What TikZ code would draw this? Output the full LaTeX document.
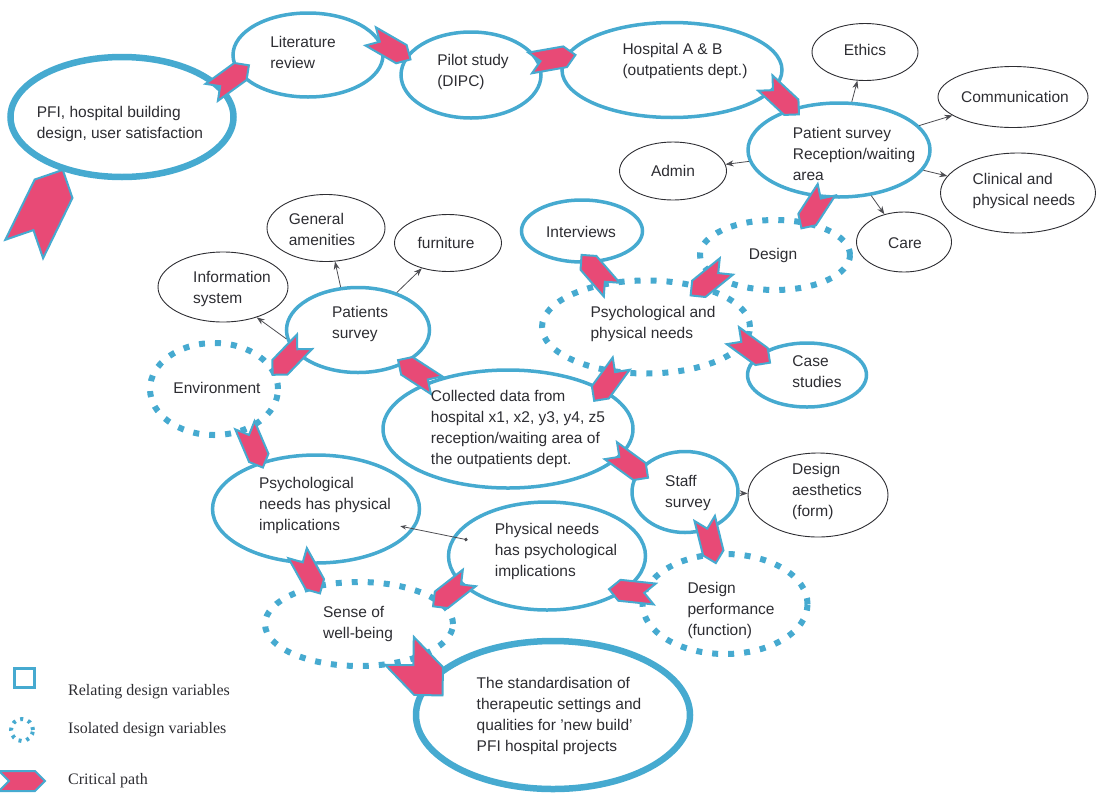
\documentclass[tikz,border=0pt]{standalone}
\usepackage{fontspec}
\setmainfont{Liberation Sans}
\newfontfamily\legendfont{Liberation Serif}
\usetikzlibrary{shapes.geometric,shapes.symbols,arrows.meta,calc}
\definecolor{cpblue}{RGB}{70,170,208}
\definecolor{cppink}{RGB}{232,74,118}
\definecolor{inkgray}{RGB}{45,45,50}
\pgfdeclarelayer{background}
\pgfsetlayers{background,main}
\begin{document}
\begin{tikzpicture}[x=1pt,y=-1pt,
  blueell/.style={ellipse, draw=cpblue, line width=3.5pt, inner sep=0pt},
  thickell/.style={ellipse, draw=cpblue, line width=6.5pt, fill=white, inner sep=0pt},
  dotell/.style={ellipse, draw=cpblue, line width=6pt, dash pattern=on 6pt off 10pt, inner sep=0pt},
  thinell/.style={ellipse, draw=inkgray, line width=0.9pt, inner sep=0pt},
  lbl/.style={align=left, font=\fontsize{15.5}{21}\selectfont, text=inkgray, inner sep=0pt},
  legtxt/.style={anchor=west, font=\legendfont\fontsize{16}{19}\selectfont, text=inkgray, inner sep=0pt},
  crit/.style={signal, signal to=east, signal from=west, fill=cppink, draw=cpblue, line width=2pt, minimum width=46pt, minimum height=21pt, inner sep=0pt},
  bigcrit/.style={crit, minimum width=62pt, minimum height=40pt},
  link/.style={draw=inkgray!85, line width=0.8pt, -{Stealth[length=8pt,width=6pt]}},
]
\useasboundingbox (0,0) rectangle (1097,793);

% ---------- ellipses ----------
\node[thickell, minimum width=223pt, minimum height=120pt] (pfi) at (122,117) {};
\node[blueell, minimum width=150pt, minimum height=84pt] (lit) at (308,55) {};
\node[blueell, minimum width=140pt, minimum height=86pt] (pilot) at (471,75) {};
\node[blueell, minimum width=220pt, minimum height=95pt] (hosp) at (672,70) {};
\node[blueell, minimum width=182pt, minimum height=94pt] (psurv) at (839,150) {};
\node[thinell, minimum width=106pt, minimum height=57pt] (ethics) at (865,52) {};
\node[thinell, minimum width=150pt, minimum height=61pt] (comm) at (1013,97) {};
\node[thinell, minimum width=155pt, minimum height=80pt] (clin) at (1018,193) {};
\node[thinell, minimum width=95pt, minimum height=60pt] (care) at (904,242) {};
\node[thinell, minimum width=107pt, minimum height=58pt] (admin) at (673,171) {};
\node[dotell, minimum width=150pt, minimum height=70pt] (design) at (775,255) {};
\node[blueell, minimum width=121pt, minimum height=62pt] (interv) at (582,231) {};
\node[dotell, minimum width=208pt, minimum height=93pt] (ppn) at (646,327) {};
\node[blueell, minimum width=119pt, minimum height=64pt] (case) at (807,375) {};
\node[blueell, minimum width=250pt, minimum height=118pt] (cd) at (508,429) {};
\node[blueell, minimum width=143pt, minimum height=85pt] (pats) at (358,330) {};
\node[thinell, minimum width=118pt, minimum height=67pt] (genam) at (326,228) {};
\node[thinell, minimum width=107pt, minimum height=57pt] (furn) at (448,243) {};
\node[thinell, minimum width=130pt, minimum height=70pt] (info) at (223,287) {};
\node[dotell, minimum width=128pt, minimum height=92pt] (env) at (214,389) {};
\node[blueell, minimum width=207pt, minimum height=108pt] (pnhp) at (316,509) {};
\node[blueell, minimum width=197pt, minimum height=108pt] (phnp) at (547,556) {};
\node[blueell, minimum width=106pt, minimum height=81pt] (staff) at (685,492) {};
\node[thinell, minimum width=140pt, minimum height=84pt] (aest) at (818,495) {};
\node[dotell, minimum width=165pt, minimum height=100pt] (dperf) at (725,604) {};
\node[dotell, minimum width=188pt, minimum height=84pt] (sense) at (359,624) {};
\node[thickell, minimum width=274pt, minimum height=148pt] (std) at (553,715) {};

% ---------- thin links ----------
\draw[link] (psurv) -- (ethics);
\draw[link] (psurv) -- (comm);
\draw[link] (psurv) -- (clin);
\draw[link] (psurv) -- (care);
\draw[link] (psurv) -- (admin);
\draw[link] (pats.112) -- (genam.285);
\draw[link] (pats) -- (furn);
\draw[link] (pats.187) -- (info.318);
\draw[link] (staff) -- (aest);
\draw[draw=inkgray!85, line width=0.8pt, {Stealth[length=6pt,width=4.5pt]}-{Circle[length=3.5pt]}, shorten <=86pt, shorten >=81pt] (pnhp.center) -- (phnp.center);

% ---------- critical path ----------
\coordinate (start) at (28,249);
\begin{pgfonlayer}{background}
\path (start) -- (pfi.220) node[bigcrit, midway, rotate=64, minimum width=88pt, minimum height=42pt] (c0) {};
\end{pgfonlayer}
\path (pfi.14) -- (lit.189) node[crit, midway, rotate=36] (c1) {};
\path (lit.15) -- (pilot.167) node[crit, midway, rotate=-30] (c2) {};
\path (pilot.10) -- (hosp.172) node[crit, midway, rotate=10] (c3) {};
\path (hosp.350) -- (psurv.141) node[crit, midway, rotate=-43] (c4) {};
\path (psurv.250) -- (design.48) node[crit, midway, rotate=-123] (c5) {};
\path (design.197) -- (ppn.33) node[crit, midway, rotate=-141] (c6) {};
\path (ppn.130) -- (interv.277) node[crit, midway, rotate=131] (c7) {};
\path (ppn.353) -- (case.163) node[crit, midway, rotate=-36] (c8) {};
\path (ppn.231) -- (cd.21) node[crit, midway, rotate=-126] (c9) {};
\path (cd.148) -- (pats.323) node[crit, midway, rotate=147] (c10) {};
\path (pats.197) -- (env.10) node[crit, pos=0.3, rotate=-134] (c11) {};
\path (env.312) -- (pnhp.142) node[crit, midway, rotate=-67] (c12) {};
\path (cd.348) -- (staff.161) node[crit, midway, rotate=-36] (c13) {};
\path (staff.303) -- (dperf.105) node[crit, midway, rotate=-76] (c14) {};
\path (dperf.170) -- (phnp.333) node[crit, midway, rotate=174] (c15) {};
\path (phnp.196) -- (sense.14) node[crit, midway, rotate=-142] (c16) {};
\path (pnhp.251) -- (sense.133) node[crit, midway, rotate=-61] (c17) {};
\path (sense.330) -- (std.168) node[bigcrit, midway, rotate=-46] (c18) {};

% ---------- texts ----------
\node[lbl] (pfit) at (120,124) {PFI, hospital building\\design, user satisfaction};
\node[lbl] (litt) at (303,52) {Literature\\review};
\node[lbl] (pilott) at (473,72) {Pilot study\\(DIPC)};
\node[lbl] (hospt) at (685,61) {Hospital A \& B\\(outpatients dept.)};
\node[lbl] (psurvt) at (854,154) {Patient survey\\Reception/waiting\\area};
\node[lbl] (ethicst) at (865,50) {Ethics};
\node[lbl] (commt) at (1015,97) {Communication};
\node[lbl] (clint) at (1024,191) {Clinical and\\physical needs};
\node[lbl] (caret) at (905,243) {Care};
\node[lbl] (admint) at (673,171) {Admin};
\node[lbl] (designt) at (773,255) {Design};
\node[lbl] (intervt) at (581,232) {Interviews};
\node[lbl] (ppnt) at (653,324) {Psychological and\\physical needs};
\node[lbl] (caset) at (817,372) {Case\\studies};
\node[lbl] (cdt) at (518,429) {Collected data from\\hospital x1, x2, y3, y4, z5\\reception/waiting area of\\the outpatients dept.};
\node[lbl] (patst) at (360,324) {Patients\\survey};
\node[lbl] (genamt) at (322,229) {General\\amenities};
\node[lbl] (furnt) at (446,243) {furniture};
\node[lbl] (infot) at (232,289) {Information\\system};
\node[lbl] (envt) at (217,388) {Environment};
\node[lbl] (pnhpt) at (325,505) {Psychological\\needs has physical\\implications};
\node[lbl] (phnpt) at (556,551) {Physical needs\\has psychological\\implications};
\node[lbl] (stafft) at (688,493) {Staff\\survey};
\node[lbl] (aestt) at (827,491) {Design\\aesthetics\\(form)};
\node[lbl] (dperft) at (731,610) {Design\\performance\\(function)};
\node[lbl] (senset) at (358,624) {Sense of\\well-being};
\node[lbl] (stdt) at (559,716) {The standardisation of\\therapeutic settings and\\qualities for 'new build'\\PFI hospital projects};

% ---------- legend ----------
\node[draw=cpblue, line width=3pt, minimum width=20pt, minimum height=19pt, inner sep=0pt] (legsq) at (24,678) {};
\node[circle, draw=cpblue, line width=4pt, dash pattern=on 3pt off 5pt, minimum size=22pt, inner sep=0pt] (legdot) at (22,730) {};
\node[crit, minimum width=46pt, minimum height=20pt] (legcp) at (22,781) {};
\node[legtxt] (leg1) at (68,692) {Relating design variables};
\node[legtxt] (leg2) at (68,730) {Isolated design variables};
\node[legtxt] (leg3) at (68,781) {Critical path};
\end{tikzpicture}
\end{document}
